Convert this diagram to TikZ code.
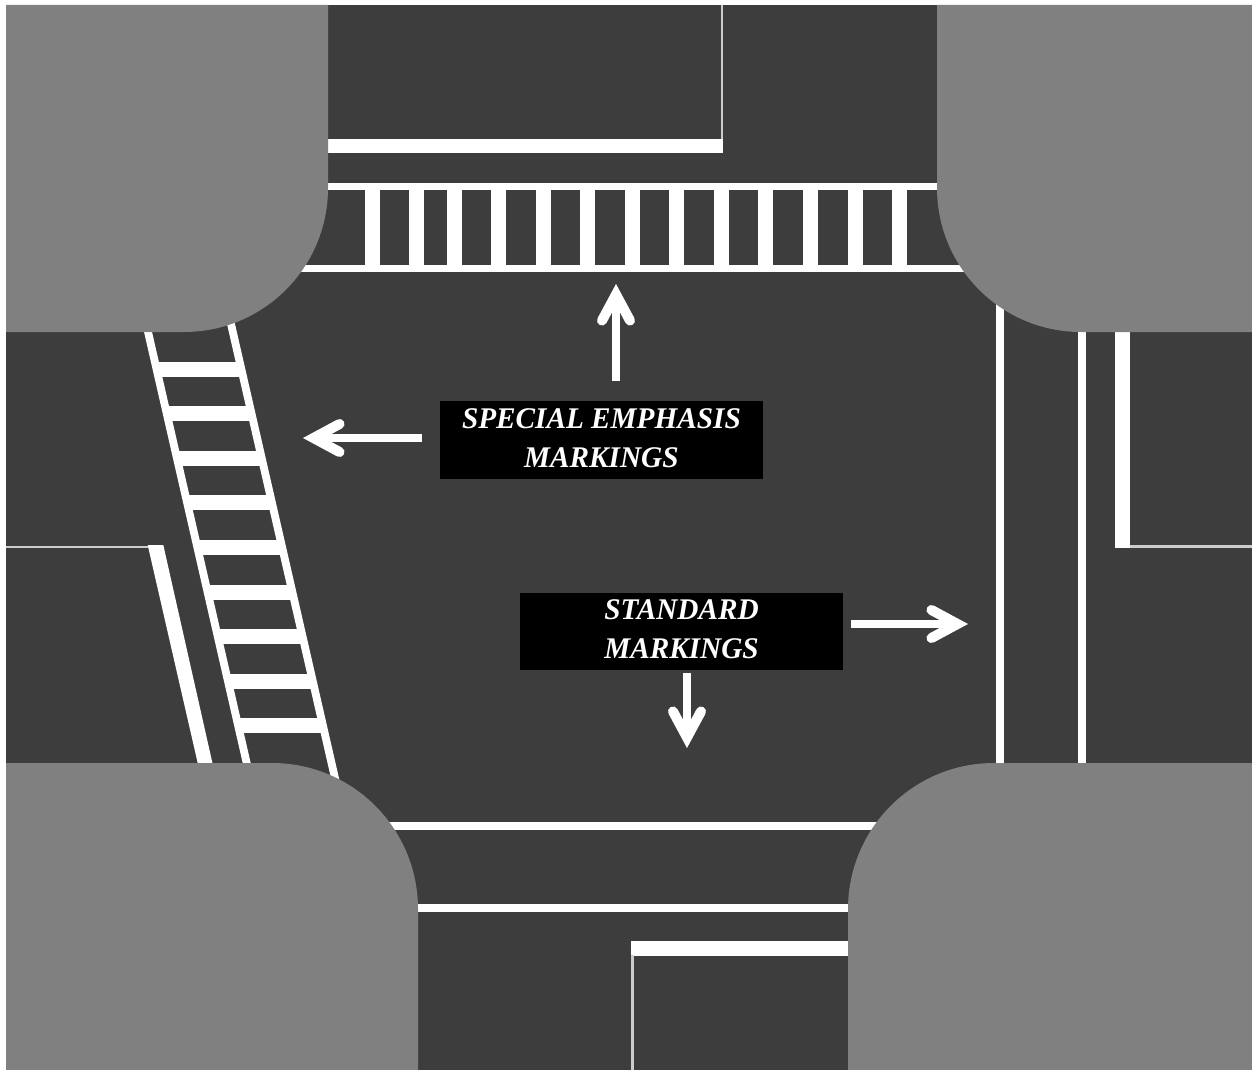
\documentclass[tikz,border=0pt]{standalone}
\usepackage{fontspec}
\setmainfont{Liberation Serif}
\newfontfamily\legendfont[FakeStretch=0.975]{Liberation Serif}
\usetikzlibrary{arrows.meta,positioning}
\definecolor{roadgray}{HTML}{3D3D3D}
\definecolor{curbgray}{HTML}{808080}
\tikzset{
    road/.style   = {fill=roadgray},
    curb/.style   = {fill=curbgray},
    paint/.style  = {fill=white},
    hairline/.style = {draw=white!80!black, line width=1.2pt},
    railline/.style = {draw=white, line width=3.9pt},
    legend/.style = {rectangle, fill=black, text=white, inner sep=0pt, align=center, minimum width=161.5pt, minimum height=38.6pt, text depth=2.3pt,
                    font=\legendfont\fontsize{15}{19.5}\selectfont\bfseries\itshape},
    callout/.style = {draw=white, line width=4pt, -{Straight Barb[length=13pt,width=14pt,line width=5pt,line cap=round]}}
}

\begin{document}
\begin{tikzpicture}[x=0.5pt, y=-0.5pt]
        \useasboundingbox (0,0) rectangle (1252,1070);

        % Pavement
        \fill[road] (6,5) rectangle (1252,1070);

        % Top approach
        \fill[paint] (320,139) rectangle (722.5,153);
        \draw[hairline] (722,5) -- (722,139);
        \fill[paint] (300,183) rectangle (968,190);
        \fill[paint] (290,264.5) rectangle (980,272);
        \foreach \x in {365,409,447,491,536,580,625,669,714,758.3,803,847.6,892}
            \fill[paint] (\x,188) rectangle (\x+15,266);

        % Left approach
        \draw[hairline] (6,547) -- (148,547);
        \fill[paint] (147.7,545) -- (163.3,545) -- (214,770) -- (199.3,770) -- cycle;
        \draw[railline] (145.3,320) -- (248.3,770);
        \draw[railline] (227.8,310) -- (337.7,790);
        \foreach \k in {0,...,8} {
            \pgfmathsetmacro{\yrung}{361.5+44.6*\k}
            \pgfmathsetmacro{\xrung}{148+0.229*(\yrung-332)}
            \fill[paint] (\xrung,\yrung) rectangle (\xrung+85,\yrung+15);
        }

        % Right approach
        \fill[paint] (996,280) rectangle (1003.7,770);
        \fill[paint] (1077.6,325) rectangle (1085.5,770);
        \fill[paint] (1115.3,325) rectangle (1130,548);
        \draw[hairline] (1130,546.5) -- (1252,546.5);

        % Bottom approach
        \fill[paint] (380,822) rectangle (890,830);
        \fill[paint] (410,904) rectangle (856,912);
        \fill[paint] (631,941) rectangle (856,955.5);
        \draw[hairline] (632.5,955) -- (632.5,1070);

        % Corners
        \fill[curb] (6,5) -- (328,5) [rounded corners=72pt] -- (328,332) [sharp corners] -- (6,332) -- cycle;
        \fill[curb] (1252,5) -- (937,5) [rounded corners=72pt] -- (937,332) [sharp corners] -- (1252,332) -- cycle;
        \fill[curb] (6,1070) -- (418,1070) [rounded corners=73pt] -- (418,763) [sharp corners] -- (6,763) -- cycle;
        \fill[curb] (1252,1070) -- (848,1070) [rounded corners=73pt] -- (848,763) [sharp corners] -- (1252,763) -- cycle;

        % Legends
        \node[legend] (emphasis) at (601.4,440) {SPECIAL EMPHASIS\\MARKINGS};
        \node[legend] (standard) at (681.5,631.3) {STANDARD\\MARKINGS};

        % Arrows
        \coordinate (emphup) at (616,284);
        \coordinate (emphleft) at (303,438);
        \coordinate (stdright) at (968,624);
        \coordinate (stddown) at (687,748);
        \draw[callout, shorten <=10pt] (emphasis.north -| emphup) -- (emphup);
        \draw[callout, shorten <=9pt] (emphasis.west |- emphleft) -- (emphleft);
        \draw[callout, shorten <=4pt] (standard.east |- stdright) -- (stdright);
        \draw[callout, shorten <=1.5pt] (standard.south -| stddown) -- (stddown);

    \end{tikzpicture}
\end{document}
